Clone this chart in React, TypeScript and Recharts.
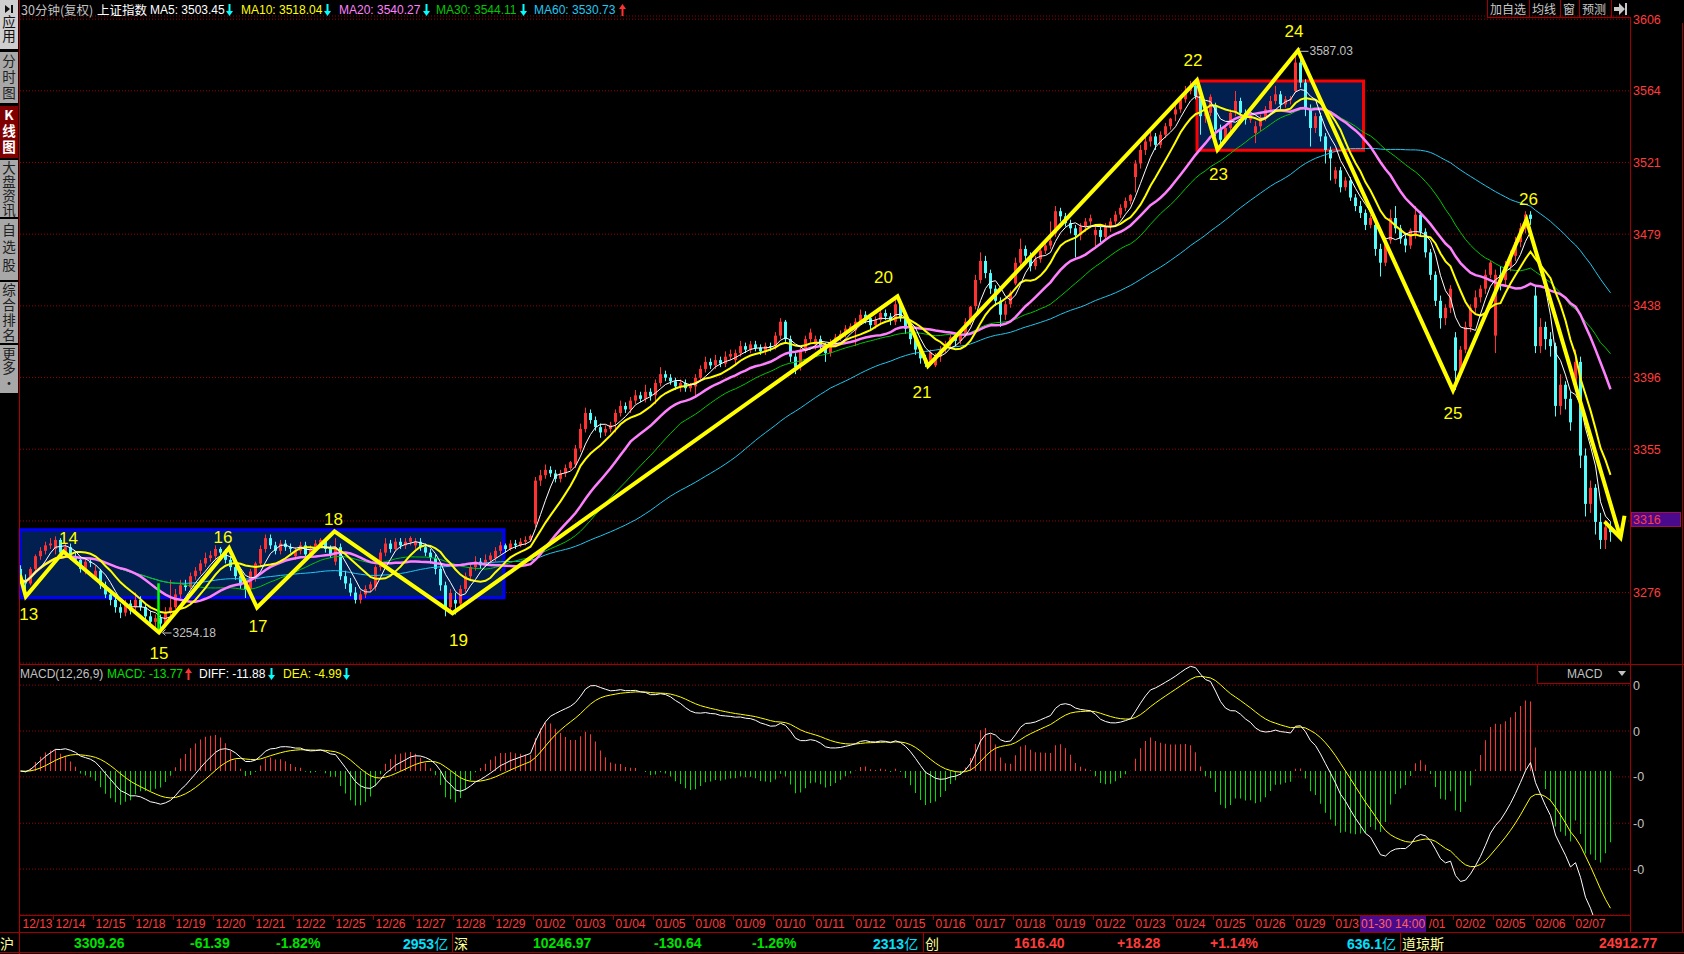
import React from "react";
import {
  ComposedChart,
  Bar,
  Line,
  XAxis,
  YAxis,
  CartesianGrid,
  ReferenceArea,
  Cell,
} from "recharts";

// 30-minute bars, 上证指数, 2017-12-13 .. 2018-02-07 (first day partly off-screen)
const days = [
  "12/13", "12/14", "12/15", "12/18", "12/19", "12/20", "12/21", "12/22", "12/25", "12/26",
  "12/27", "12/28", "12/29", "01/02", "01/03", "01/04", "01/05", "01/08", "01/09", "01/10",
  "01/11", "01/12", "01/15", "01/16", "01/17", "01/18", "01/19", "01/22", "01/23", "01/24",
  "01/25", "01/26", "01/29", "01/30", "01/31", "02/01", "02/02", "02/05", "02/06", "02/07",
];

const opens = [
  3289, 3283, 3281, 3289, 3296, 3299, 3302,
  3300, 3305, 3298, 3301, 3296, 3294, 3289, 3293,
  3284, 3288, 3280, 3275, 3272, 3268, 3265, 3270,
  3268, 3272, 3268, 3263, 3260, 3262, 3259, 3265,
  3268, 3275, 3280, 3279, 3285, 3288, 3292, 3295,
  3296, 3300, 3298, 3294, 3290, 3285, 3280, 3278,
  3285, 3292, 3300, 3306, 3302, 3299, 3303, 3301,
  3296, 3299, 3302, 3297, 3300, 3303, 3305, 3300,
  3293, 3301, 3285, 3281, 3276, 3272, 3275, 3278,
  3279, 3290, 3298, 3303, 3300, 3304, 3302, 3304,
  3302, 3304, 3301, 3298, 3295, 3289, 3280, 3268,
  3272, 3270, 3278, 3285, 3290, 3293, 3291, 3294,
  3295, 3299, 3302, 3300, 3303, 3302, 3304, 3305,
  3314, 3338, 3341, 3344, 3342, 3339, 3342, 3345,
  3347, 3356, 3367, 3376, 3372, 3368, 3365, 3367,
  3371, 3376, 3380, 3378, 3383, 3386, 3384, 3388,
  3386, 3393, 3398, 3396, 3394, 3391, 3393, 3390,
  3391, 3396, 3401, 3405, 3403, 3406, 3404, 3408,
  3406, 3410, 3414, 3412, 3415, 3413, 3411, 3414,
  3414, 3420, 3428, 3418, 3408, 3402, 3412, 3418,
  3415, 3418, 3414, 3410, 3416, 3419, 3421, 3424,
  3423, 3428, 3432, 3430, 3426, 3429, 3433, 3431,
  3428, 3438, 3430, 3424, 3418, 3412, 3407, 3404,
  3403, 3408, 3412, 3415, 3419, 3417, 3421, 3428,
  3437, 3452, 3463, 3456, 3447, 3440, 3432, 3438,
  3450, 3462, 3470, 3466, 3460, 3464, 3469, 3472,
  3479, 3492, 3489, 3485, 3482, 3478, 3483, 3486,
  3478, 3481, 3477, 3483, 3486, 3490, 3494, 3498,
  3512, 3520, 3528, 3533, 3536, 3531, 3537, 3542,
  3549, 3552, 3558, 3563, 3566, 3560, 3548, 3550,
  3554, 3540, 3534, 3541, 3550, 3557, 3550, 3546,
  3538, 3542, 3547, 3552, 3557, 3561, 3555, 3558,
  3563, 3580, 3568, 3552, 3541, 3548, 3536, 3528,
  3511, 3516, 3506, 3510, 3500, 3495, 3491, 3484,
  3484, 3470, 3462, 3475, 3488, 3482, 3476, 3472,
  3478, 3490, 3480, 3468, 3455, 3440, 3430, 3436,
  3419, 3400, 3412, 3425, 3436, 3442, 3447, 3455,
  3420, 3455, 3452, 3460, 3466, 3474, 3482, 3490,
  3443, 3414, 3425, 3418, 3414, 3380, 3392, 3384,
  3392, 3405, 3352, 3325, 3334, 3315, 3305, 3312,
];

const highs = [
  3291, 3286, 3290, 3297, 3301, 3304, 3306,
  3307, 3306, 3303, 3303, 3298, 3296, 3295, 3295,
  3291, 3289, 3282, 3277, 3274, 3270, 3272, 3272,
  3276, 3274, 3270, 3266, 3264, 3264, 3268, 3283,
  3278, 3283, 3283, 3287, 3290, 3294, 3298, 3299,
  3302, 3301, 3300, 3296, 3292, 3287, 3282, 3289,
  3293, 3302, 3308, 3308, 3304, 3305, 3305, 3303,
  3301, 3304, 3304, 3302, 3305, 3306, 3306, 3302,
  3306, 3303, 3288, 3284, 3279, 3277, 3280, 3282,
  3291, 3300, 3306, 3305, 3306, 3306, 3306, 3307,
  3306, 3306, 3303, 3300, 3297, 3291, 3282, 3278,
  3276, 3280, 3287, 3292, 3296, 3295, 3297, 3298,
  3301, 3304, 3303, 3305, 3305, 3306, 3307, 3308,
  3340, 3344, 3347, 3346, 3344, 3344, 3347, 3349,
  3358, 3370, 3379, 3378, 3374, 3370, 3369, 3371,
  3378, 3383, 3382, 3385, 3389, 3388, 3392, 3390,
  3395, 3402, 3400, 3398, 3396, 3395, 3395, 3393,
  3398, 3403, 3408, 3407, 3409, 3408, 3411, 3412,
  3412, 3417, 3416, 3417, 3417, 3415, 3416, 3416,
  3422, 3430, 3429, 3420, 3410, 3413, 3420, 3424,
  3420, 3420, 3416, 3418, 3421, 3423, 3426, 3427,
  3430, 3435, 3434, 3432, 3431, 3435, 3435, 3433,
  3442, 3440, 3432, 3426, 3420, 3414, 3409, 3412,
  3410, 3414, 3417, 3421, 3421, 3423, 3430, 3437,
  3455, 3468, 3466, 3458, 3449, 3442, 3440, 3446,
  3465, 3476, 3472, 3468, 3466, 3471, 3475, 3486,
  3495, 3494, 3491, 3487, 3484, 3485, 3488, 3490,
  3484, 3483, 3485, 3488, 3492, 3496, 3500, 3502,
  3522, 3531, 3536, 3540, 3538, 3539, 3544, 3547,
  3555, 3560, 3566, 3569, 3567, 3562, 3552, 3561,
  3556, 3543, 3543, 3552, 3563, 3559, 3552, 3550,
  3545, 3549, 3554, 3560, 3566, 3563, 3560, 3560,
  3587.03, 3582, 3570, 3555, 3550, 3550, 3538, 3530,
  3518, 3518, 3512, 3512, 3502, 3498, 3493, 3490,
  3486, 3473, 3477, 3493, 3495, 3484, 3479, 3482,
  3495, 3492, 3482, 3470, 3457, 3443, 3438, 3449,
  3422, 3414, 3428, 3438, 3446, 3449, 3458, 3463,
  3458, 3460, 3463, 3469, 3477, 3485, 3492, 3492,
  3448, 3430, 3428, 3422, 3416, 3398, 3394, 3388,
  3412, 3408, 3356, 3338, 3336, 3320, 3316, 3315,
];

const lows = [
  3281, 3278, 3280, 3287, 3294, 3297, 3300,
  3297, 3296, 3296, 3294, 3292, 3287, 3286, 3290,
  3283, 3278, 3273, 3269, 3265, 3262, 3263, 3264,
  3266, 3266, 3261, 3258, 3257, 3254.18, 3258, 3263,
  3267, 3273, 3277, 3278, 3283, 3286, 3290, 3293,
  3294, 3296, 3292, 3288, 3283, 3278, 3273, 3277,
  3282, 3290, 3298, 3300, 3297, 3297, 3299, 3298,
  3294, 3297, 3295, 3295, 3299, 3301, 3298, 3295,
  3291, 3283, 3278, 3274, 3270, 3270, 3273, 3276,
  3277, 3288, 3296, 3298, 3299, 3300, 3300, 3302,
  3300, 3299, 3296, 3292, 3286, 3277, 3263, 3266,
  3264, 3268, 3276, 3283, 3288, 3289, 3290, 3292,
  3293, 3297, 3298, 3299, 3300, 3301, 3302, 3304,
  3312, 3335, 3339, 3340, 3337, 3337, 3340, 3344,
  3345, 3354, 3365, 3370, 3366, 3362, 3363, 3365,
  3365, 3374, 3376, 3376, 3381, 3382, 3382, 3383,
  3381, 3391, 3394, 3392, 3389, 3388, 3388, 3388,
  3385, 3394, 3399, 3401, 3401, 3402, 3402, 3406,
  3403, 3408, 3410, 3410, 3411, 3409, 3409, 3411,
  3412, 3418, 3416, 3405, 3398, 3400, 3410, 3416,
  3412, 3412, 3405, 3408, 3414, 3417, 3419, 3422,
  3414, 3426, 3427, 3423, 3424, 3427, 3429, 3426,
  3426, 3428, 3421, 3415, 3409, 3404, 3402, 3403,
  3402, 3405, 3410, 3413, 3414, 3415, 3419, 3426,
  3435, 3450, 3453, 3444, 3437, 3425, 3429, 3436,
  3449, 3460, 3463, 3457, 3458, 3462, 3467, 3470,
  3477, 3486, 3483, 3479, 3465, 3475, 3480, 3484,
  3470, 3474, 3475, 3480, 3484, 3488, 3492, 3496,
  3503, 3517, 3525, 3530, 3528, 3529, 3535, 3540,
  3545, 3550, 3556, 3561, 3558, 3537, 3544, 3548,
  3536, 3530, 3532, 3539, 3548, 3547, 3543, 3544,
  3532, 3539, 3545, 3550, 3555, 3552, 3553, 3555,
  3562, 3565, 3548, 3530, 3538, 3533, 3520, 3510,
  3508, 3503, 3504, 3498, 3492, 3488, 3481, 3482,
  3466, 3454, 3460, 3473, 3479, 3473, 3468, 3470,
  3476, 3477, 3465, 3452, 3437, 3424, 3426, 3433,
  3389, 3397, 3410, 3422, 3433, 3439, 3444, 3453,
  3410, 3446, 3449, 3457, 3463, 3471, 3479, 3484,
  3410, 3410, 3412, 3408, 3374, 3375, 3378, 3366,
  3388, 3345, 3318, 3320, 3308, 3300, 3300, 3304,
];

const closes = [
  3283, 3281, 3289, 3296, 3299, 3302, 3303,
  3305, 3298, 3301, 3296, 3294, 3289, 3293, 3292.4,
  3288, 3280, 3275, 3272, 3268, 3265, 3270, 3266.1,
  3272, 3268, 3263, 3260, 3262, 3259, 3265, 3267.9,
  3275, 3280, 3279, 3285, 3288, 3292, 3295, 3296.5,
  3300, 3298, 3294, 3290, 3285, 3280, 3278, 3287.6,
  3292, 3300, 3306, 3302, 3299, 3303, 3301, 3300.1,
  3299, 3302, 3297, 3300, 3303, 3305, 3300, 3297.1,
  3301, 3285, 3281, 3276, 3272, 3275, 3278, 3280.5,
  3290, 3298, 3303, 3300, 3304, 3302, 3304, 3306.1,
  3304, 3301, 3298, 3295, 3289, 3280, 3268, 3275.8,
  3270, 3278, 3285, 3290, 3293, 3291, 3294, 3296.4,
  3299, 3302, 3300, 3303, 3302, 3304, 3305, 3307.2,
  3338, 3341, 3344, 3342, 3339, 3342, 3345, 3348.3,
  3356, 3367, 3376, 3372, 3368, 3365, 3367, 3369.1,
  3376, 3380, 3378, 3383, 3386, 3384, 3388, 3385.7,
  3393, 3398, 3396, 3394, 3391, 3393, 3390, 3391.8,
  3396, 3401, 3405, 3403, 3406, 3404, 3408, 3409.5,
  3410, 3414, 3412, 3415, 3413, 3411, 3414, 3413.9,
  3420, 3428, 3418, 3408, 3402, 3412, 3418, 3421.8,
  3418, 3414, 3410, 3416, 3419, 3421, 3424, 3425.3,
  3428, 3432, 3430, 3426, 3429, 3433, 3431, 3428.9,
  3438, 3430, 3424, 3418, 3412, 3407, 3404, 3410.5,
  3408, 3412, 3415, 3419, 3417, 3421, 3428, 3436.6,
  3452, 3463, 3456, 3447, 3440, 3432, 3438, 3444.7,
  3462, 3470, 3466, 3460, 3464, 3469, 3472, 3474.8,
  3492, 3489, 3485, 3482, 3478, 3483, 3486, 3487.9,
  3481, 3477, 3483, 3486, 3490, 3494, 3498, 3501.4,
  3520, 3528, 3533, 3536, 3531, 3537, 3542, 3546.5,
  3552, 3558, 3563, 3566, 3560, 3548, 3550, 3559.5,
  3540, 3534, 3541, 3550, 3557, 3550, 3546, 3548.3,
  3542, 3547, 3552, 3557, 3561, 3555, 3558, 3558.1,
  3580, 3568, 3552, 3541, 3548, 3536, 3528, 3523,
  3516, 3506, 3510, 3500, 3495, 3491, 3484, 3488,
  3470, 3462, 3475, 3488, 3482, 3476, 3472, 3480.8,
  3490, 3480, 3468, 3455, 3440, 3430, 3436, 3447,
  3400, 3412, 3425, 3436, 3442, 3447, 3455, 3462.1,
  3455, 3452, 3460, 3466, 3474, 3482, 3490, 3487.5,
  3414, 3425, 3418, 3414, 3380, 3392, 3384, 3370.7,
  3405, 3352, 3325, 3334, 3315, 3305, 3312, 3309.3,
];

// right price scale (ratio spaced grid) and the labels the terminal prints
const priceTicks = [3276, 3315.5, 3355.6, 3396.1, 3437.1, 3478.6, 3520.6, 3563.1, 3606.1];
const priceLabels = ["3276", "3316", "3355", "3396", "3438", "3479", "3521", "3564", "3606"];
const macdTicks = [19.1, 8.9, -1.3, -11.6, -21.8];
const macdLabels = ["0", "0", "-0", "-0", "-0"];

// hand drawn wave count
const zzIdx = [-0.1, 1.06, 8.6, 27.7, 41.7, 47.3, 62.8, 86.4, 175.4, 181.5, 235.3, 239.4, 255.5, 286.5, 301.2, 320.0];
const zzPrice = [3285.7, 3273.8, 3298.6, 3254.2, 3300.5, 3267.8, 3309.7, 3264.7, 3442.6, 3402.7, 3569.4, 3528.1, 3587.2, 3388.9, 3487.1, 3306.2];
const zzNames = ["", "13", "14", "15", "16", "17", "18", "19", "20", "21", "22", "23", "24", "25", "26", ""];
const zzLabelShift: [number, number][] = [
  [0, 0], [3, 18], [5, -13], [0, 21], [-6, -11], [1, 19], [-1, -12], [6, 27],
  [-14, -19], [-6, 27], [-4, -20], [1, 25], [-4, -19], [0, 23], [2, -20], [0, 0],
];
const arrowIdx = [316.8, 320.0, 320.8];
const arrowPrice = [3315.1, 3306.2, 3318.4];
const markIdx = [27.6, 27.6];
const markPrice = [3281.1, 3253.7];
const blueBox = { i1: -0.1, i2: 96.7, lo: 3273.1, hi: 3310.6 };
const redBox = { i1: 235.3, i2: 268.6, lo: 3527.8, hi: 3569.0 };
const cursorBox = { x1: 1360, x2: 1426 };

const UP = "#ff3232";
const DOWN = "#54fcfc";
const GRID = "#9a0000";
const LINE = "#a00000";
const AXIS_RED = "#ff3c3c";
const NUMF = "'Liberation Sans', Arial, sans-serif";
const CJK = "'Noto Sans CJK SC', 'Noto Sans', sans-serif";

function sma(n: number) {
  return closes.map((_, k) => {
    const s = Math.max(0, k - n + 1);
    let t = 0;
    for (let j = s; j <= k; j++) t += closes[j];
    return t / (k - s + 1);
  });
}
function ema(src: number[], n: number) {
  const a = 2 / (n + 1);
  const out: number[] = [];
  src.forEach((v, k) => out.push(k === 0 ? v : out[k - 1] + a * (v - out[k - 1])));
  return out;
}

const ma5 = sma(5), ma10 = sma(10), ma20 = sma(20), ma30 = sma(30), ma60 = sma(60);
const e12 = ema(closes, 12), e26 = ema(closes, 26);
const diff = e12.map((v, k) => v - e26[k]);
const dea = ema(diff, 9);

const rows = closes.map((c, i) => ({
  i,
  o: opens[i],
  h: highs[i],
  l: lows[i],
  c,
  range: [lows[i], highs[i]],
  ma5: ma5[i],
  ma10: ma10[i],
  ma20: ma20[i],
  ma30: ma30[i],
  ma60: ma60[i],
  diff: diff[i],
  dea: dea[i],
  hist: 2 * (diff[i] - dea[i]),
}));
const zzRows = zzIdx.map((i, k) => ({ i, zz: zzPrice[k] }));
const arrowRows = arrowIdx.map((i, k) => ({ i, v: arrowPrice[k] }));
const markRows = markIdx.map((i, k) => ({ i, v: markPrice[k] }));
const dayTicks = days.map((_, d) => (d === 0 ? -0.1 : 8 * d - 1.5));

const HI = Math.max(...highs);
const LO = Math.min(...lows);

function Candle(props: any) {
  const { x, width, payload } = props;
  let { y, height } = props;
  if (height < 0) {
    y += height;
    height = -height;
  }
  const { o, h, l, c } = payload;
  const lh = Math.log(h), ll = Math.log(l);
  const py = (p: number) => (lh === ll ? y : y + ((lh - Math.log(p)) / (lh - ll)) * height);
  const cx = Math.round(x + width / 2 - 0.5) + 0.5;
  const col = c >= o ? UP : DOWN;
  const bt = py(Math.max(o, c));
  const bb = py(Math.min(o, c));
  return (
    <g>
      <line x1={cx} x2={cx} y1={y} y2={y + height} stroke={col} strokeWidth={1} />
      <rect x={cx - 1.5} y={bt} width={3} height={Math.max(1, bb - bt)} fill={col} />
      {h === HI && (
        <g>
          <polyline points={`${cx + 5},${y - 3} ${cx + 2},${y} ${cx + 5},${y + 3}`} fill="none" stroke="#c0c0c0" />
          <line x1={cx + 2} x2={cx + 13} y1={y + 0.5} y2={y + 0.5} stroke="#c0c0c0" />
          <text x={cx + 14} y={y + 4.5} fill="#c0c0c0" fontSize={12} fontFamily={NUMF}>{h.toFixed(2)}</text>
        </g>
      )}
      {l === LO && (
        <g>
          <polyline points={`${cx + 5},${y + height - 3} ${cx + 2},${y + height} ${cx + 5},${y + height + 3}`} fill="none" stroke="#c0c0c0" />
          <line x1={cx + 2} x2={cx + 11} y1={y + height + 0.5} y2={y + height + 0.5} stroke="#c0c0c0" />
          <text x={cx + 12} y={y + height + 4.5} fill="#c0c0c0" fontSize={12} fontFamily={NUMF}>{l.toFixed(2)}</text>
        </g>
      )}
    </g>
  );
}

function ZzLabel(props: any) {
  const { x, y, index } = props;
  const name = zzNames[index];
  if (!name) return null;
  const [dx, dy] = zzLabelShift[index];
  return (
    <text x={x + dx} y={y + dy} fill="#ffff00" fontSize={17} fontFamily={NUMF} textAnchor="middle" dominantBaseline="central">
      {name}
    </text>
  );
}

function PriceTick(props: any) {
  const { y, index } = props;
  return (
    <text x={1633} y={y + 4.5} fill={AXIS_RED} fontSize={12.5} fontFamily={NUMF}>
      {priceLabels[index]}
    </text>
  );
}
function MacdTick(props: any) {
  const { y, index } = props;
  return (
    <text x={1633} y={y + 4.5} fill="#c0c0c0" fontSize={12.5} fontFamily={NUMF}>
      {macdLabels[index]}
    </text>
  );
}

// the part of a date label that is not hidden under the cursor time box
function visiblePart(label: string, x0: number) {
  let pos = x0;
  let start = -1;
  let shown = "";
  for (const ch of label) {
    const w = ch === "/" ? 3.33 : 6.67;
    const hidden = pos + w > cursorBox.x1 && pos < cursorBox.x2;
    if (!hidden) {
      if (start < 0) start = pos;
      shown += ch;
    } else if (shown) {
      break;
    }
    pos += w;
  }
  return { shown, start };
}

function DateTick(props: any) {
  const { x, index } = props;
  const X = Math.round(x) + 0.5;
  const { shown, start } = visiblePart(days[index], X + 2);
  return (
    <g>
      {index > 0 && <line x1={X} x2={X} y1={251} y2={256} stroke={LINE} />}
      {shown && (
        <text x={start} y={263.5} fill={AXIS_RED} fontSize={12} fontFamily={NUMF}>
          {shown}
        </text>
      )}
    </g>
  );
}

function Arrow({ x, y, up, color }: { x: number; y: number; up?: boolean; color: string }) {
  return (
    <svg style={{ position: "absolute", left: x, top: y }} width={7} height={12}>
      {up ? (
        <g fill={color}>
          <polygon points="0,5 7,5 3.5,0" />
          <rect x={2.5} y={5} width={2} height={7} />
        </g>
      ) : (
        <g fill={color}>
          <rect x={2.5} y={0} width={2} height={7} />
          <polygon points="0,7 7,7 3.5,12" />
        </g>
      )}
    </svg>
  );
}

function Txt({ x, y, c, s = 12, f = NUMF, w = 400, children }: any) {
  return (
    <div
      style={{
        position: "absolute",
        left: x,
        top: y - s * 0.6,
        color: c,
        fontSize: s,
        fontWeight: w,
        lineHeight: `${Math.round(s * 1.2)}px`,
        fontFamily: f,
        whiteSpace: "nowrap",
      }}
    >
      {children}
    </div>
  );
}

const tabs = [
  { text: "应用", top: 0, h: 49, bg: "#cfcfcf", fg: "#101010", gap: 1, icon: true },
  { text: "分时图", top: 52, h: 51, bg: "#a8a8a8", fg: "#202020", gap: 2.5 },
  { text: "K线图", top: 106, h: 52, bg: "#800000", fg: "#ffffff", gap: 2.5 },
  { text: "大盘资讯", top: 160, h: 57, bg: "#a8a8a8", fg: "#202020", gap: 0.5 },
  { text: "自选股", top: 219, h: 61, bg: "#a8a8a8", fg: "#202020", gap: 4 },
  { text: "综合排名", top: 282, h: 61, bg: "#a8a8a8", fg: "#202020", gap: 1.5 },
  { text: "更多·", top: 345, h: 48, bg: "#a8a8a8", fg: "#202020", gap: 1 },
];

function hl(x: number, y: number, w: number, c = LINE) {
  return <div style={{ position: "absolute", left: x, top: y, width: w, height: 1, background: c }} />;
}
function vl(x: number, y: number, h: number, c = LINE) {
  return <div style={{ position: "absolute", left: x, top: y, width: 1, height: h, background: c }} />;
}

export default function App() {
  return (
    <div
      style={{
        position: "absolute",
        left: 0,
        top: 0,
        width: 1684,
        height: 954,
        background: "#000",
        overflow: "hidden",
        fontFamily: NUMF,
      }}
    >
      {/* price panel */}
      <div style={{ position: "absolute", left: 0, top: 0 }}>
        <ComposedChart width={1684} height={664} data={rows} margin={{ top: 16, right: 0, bottom: 1, left: 20 }}>
          <CartesianGrid vertical={false} stroke={GRID} strokeDasharray="1 2" />
          <XAxis type="number" dataKey="i" domain={[-0.1, 321.9]} allowDataOverflow hide />
          <YAxis
            orientation="right"
            scale="log"
            domain={[3237.6, 3608]}
            allowDataOverflow
            ticks={priceTicks}
            interval={0}
            width={54}
            axisLine={false}
            tickLine={false}
            tick={(p: any) => <PriceTick {...p} />}
          />
          <ReferenceArea x1={blueBox.i1} x2={blueBox.i2} y1={blueBox.lo} y2={blueBox.hi} fill="#01204f" fillOpacity={1} stroke="#0000ff" strokeWidth={3} ifOverflow="visible" />
          <ReferenceArea x1={redBox.i1} x2={redBox.i2} y1={redBox.lo} y2={redBox.hi} fill="#01204f" fillOpacity={1} stroke="#ff0000" strokeWidth={3} ifOverflow="visible" />
          <Bar dataKey="range" barSize={3} isAnimationActive={false} shape={(p: any) => <Candle {...p} />} />
          <Line dataKey="ma60" stroke="#20c8f0" strokeWidth={1} dot={false} isAnimationActive={false} />
          <Line dataKey="ma30" stroke="#00c800" strokeWidth={1} dot={false} isAnimationActive={false} />
          <Line dataKey="ma20" stroke="#ff80ff" strokeWidth={2.5} dot={false} isAnimationActive={false} />
          <Line dataKey="ma10" stroke="#ffff00" strokeWidth={2} dot={false} isAnimationActive={false} />
          <Line dataKey="ma5" stroke="#ffffff" strokeWidth={1} dot={false} isAnimationActive={false} />
          <Line data={markRows} dataKey="v" stroke="#00ff00" strokeWidth={2.5} dot={false} isAnimationActive={false} />
          <Line
            data={zzRows}
            dataKey="zz"
            stroke="#ffff00"
            strokeWidth={4}
            dot={false}
            isAnimationActive={false}
            label={(p: any) => <ZzLabel {...p} />}
          />
          <Line data={arrowRows} dataKey="v" stroke="#ffff00" strokeWidth={4} dot={false} isAnimationActive={false} />
        </ComposedChart>
      </div>

      {/* MACD panel + date axis */}
      <div style={{ position: "absolute", left: 0, top: 664 }}>
        <ComposedChart width={1684} height={268} data={rows} margin={{ top: 0, right: 0, bottom: 0, left: 20 }}>
          <CartesianGrid vertical={false} stroke={GRID} strokeDasharray="1 2" />
          <XAxis
            type="number"
            dataKey="i"
            domain={[-0.1, 321.9]}
            allowDataOverflow
            ticks={dayTicks}
            interval={0}
            height={17}
            axisLine={false}
            tickLine={false}
            tick={(p: any) => <DateTick {...p} />}
          />
          <YAxis
            orientation="right"
            domain={[-32, 23.8]}
            allowDataOverflow
            ticks={macdTicks}
            interval={0}
            width={54}
            axisLine={false}
            tickLine={false}
            tick={(p: any) => <MacdTick {...p} />}
          />
          <Bar dataKey="hist" barSize={1} isAnimationActive={false}>
            {rows.map((r) => (
              <Cell key={r.i} fill={r.hist >= 0 ? UP : "#00e000"} />
            ))}
          </Bar>
          <Line dataKey="dea" stroke="#ffff00" strokeWidth={1} dot={false} isAnimationActive={false} />
          <Line dataKey="diff" stroke="#ffffff" strokeWidth={1} dot={false} isAnimationActive={false} />
        </ComposedChart>
      </div>

      {/* frame lines */}
      {vl(19, 0, 954, "#b00000")}
      {vl(1630, 17, 915)}
      {vl(1682, 23, 909)}
      {hl(20, 664, 1664)}
      {hl(20, 915, 1610)}
      {hl(0, 932, 1684)}
      {hl(0, 952, 1684)}

      {/* left tab bar */}
      {tabs.map((t, k) => (
        <div
          key={k}
          style={{
            position: "absolute",
            left: 0,
            top: t.top,
            width: 18,
            height: t.h,
            background: t.bg,
            display: "flex",
            flexDirection: "column",
            alignItems: "center",
            justifyContent: "center",
          }}
        >
          {t.icon && (
            <svg width={9} height={8} style={{ marginBottom: 2 }}>
              <polygon points="0,0 5,4 0,8" fill={t.fg} />
              <rect x={6} y={0} width={2} height={8} fill={t.fg} />
            </svg>
          )}
          <div
            style={{
              writingMode: "vertical-rl",
              textOrientation: "upright",
              color: t.fg,
              fontFamily: CJK,
              fontSize: 13.5,
              lineHeight: "18px",
              letterSpacing: t.gap,
              fontWeight: k === 2 ? 700 : 400,
            }}
          >
            {t.text}
          </div>
        </div>
      ))}

      {/* title row */}
      <Txt x={21} y={9} c="#c0c0c0" f={CJK} s={12.5}>30分钟(复权)</Txt>
      <Txt x={97} y={9} c="#ffffff" f={CJK} s={12.5}>上证指数</Txt>
      <Txt x={150} y={10} c="#ffffff">MA5: 3503.45</Txt>
      <Arrow x={226} y={4} color="#00ffff" />
      <Txt x={241} y={10} c="#ffff00">MA10: 3518.04</Txt>
      <Arrow x={324} y={4} color="#00ffff" />
      <Txt x={339} y={10} c="#ff80ff">MA20: 3540.27</Txt>
      <Arrow x={423} y={4} color="#00ffff" />
      <Txt x={436} y={10} c="#00c800">MA30: 3544.11</Txt>
      <Arrow x={520} y={4} color="#00ffff" />
      <Txt x={534} y={10} c="#20c8f0">MA60: 3530.73</Txt>
      <Arrow x={619} y={4} up color="#ff3232" />

      {/* top right buttons */}
      {hl(1487, 17, 143)}
      {[1487, 1529, 1560, 1579, 1611].map((x) => (
        <React.Fragment key={x}>{vl(x, 0, 17)}</React.Fragment>
      ))}
      <Txt x={1490} y={9} c="#c8c8c8" f={CJK}>加自选</Txt>
      <Txt x={1532} y={9} c="#c8c8c8" f={CJK}>均线</Txt>
      <Txt x={1563} y={9} c="#c8c8c8" f={CJK}>窗</Txt>
      <Txt x={1582} y={9} c="#c8c8c8" f={CJK}>预测</Txt>
      <svg style={{ position: "absolute", left: 1614, top: 3 }} width={14} height={12}>
        <polygon points="0,4 5,4 5,0 11,6 5,12 5,8 0,8" fill="#c8c8c8" />
        <rect x={11} y={0} width={2} height={12} fill="#c8c8c8" />
      </svg>

      {/* current price tag on the axis */}
      <div
        style={{
          position: "absolute",
          left: 1631,
          top: 512,
          width: 50,
          height: 15,
          background: "#4a0a8c",
          border: "1px solid #a01050",
          boxSizing: "border-box",
        }}
      />
      <Txt x={1633} y={520} c={AXIS_RED} s={12.5}>3316</Txt>

      {/* MACD title row */}
      <Txt x={20} y={674} c="#c0c0c0">MACD(12,26,9)</Txt>
      <Txt x={107} y={674} c="#00e000">MACD: -13.77</Txt>
      <Arrow x={185} y={668} up color="#ff3232" />
      <Txt x={199} y={674} c="#ffffff">DIFF: -11.88</Txt>
      <Arrow x={268} y={668} color="#00ffff" />
      <Txt x={283} y={674} c="#ffff00">DEA: -4.99</Txt>
      <Arrow x={343} y={668} color="#00ffff" />
      <div
        style={{
          position: "absolute",
          left: 1537,
          top: 664,
          width: 94,
          height: 20,
          border: `1px solid ${LINE}`,
          boxSizing: "border-box",
          background: "#000",
        }}
      />
      <Txt x={1567} y={674} c="#c0c0c0">MACD</Txt>
      <svg style={{ position: "absolute", left: 1618, top: 671 }} width={8} height={6}>
        <polygon points="0,0 8,0 4,5" fill="#c0c0c0" />
      </svg>

      {/* cursor time on the date axis */}
      <div
        style={{
          position: "absolute",
          left: cursorBox.x1,
          top: 916,
          width: cursorBox.x2 - cursorBox.x1,
          height: 16,
          background: "#4a0a8c",
        }}
      />
      <Txt x={1361} y={924} c="#ff6060">01-30 14:00</Txt>

      {/* market status bar */}
      <Txt x={0} y={943} c="#ffff99" s={14} f={CJK}>沪</Txt>
      <Txt x={74} y={943} c="#00e000" s={14} w={700}>3309.26</Txt>
      <Txt x={190} y={943} c="#00e000" s={14} w={700}>-61.39</Txt>
      <Txt x={276} y={943} c="#00e000" s={14} w={700}>-1.82%</Txt>
      <Txt x={403} y={943} c="#00e0ff" s={14} w={700}>2953<span style={{ fontFamily: CJK, fontWeight: 400 }}>亿</span></Txt>
      {vl(452, 933, 19)}
      <Txt x={454} y={943} c="#ffff99" s={14} f={CJK}>深</Txt>
      <Txt x={533} y={943} c="#00e000" s={14} w={700}>10246.97</Txt>
      <Txt x={654} y={943} c="#00e000" s={14} w={700}>-130.64</Txt>
      <Txt x={752} y={943} c="#00e000" s={14} w={700}>-1.26%</Txt>
      <Txt x={873} y={943} c="#00e0ff" s={14} w={700}>2313<span style={{ fontFamily: CJK, fontWeight: 400 }}>亿</span></Txt>
      {vl(923, 933, 19)}
      <Txt x={925} y={943} c="#ffff99" s={14} f={CJK}>创</Txt>
      <Txt x={1014} y={943} c={AXIS_RED} s={14} w={700}>1616.40</Txt>
      <Txt x={1117} y={943} c={AXIS_RED} s={14} w={700}>+18.28</Txt>
      <Txt x={1210} y={943} c={AXIS_RED} s={14} w={700}>+1.14%</Txt>
      <Txt x={1347} y={943} c="#00e0ff" s={14} w={700}>636.1<span style={{ fontFamily: CJK, fontWeight: 400 }}>亿</span></Txt>
      {vl(1400, 933, 19)}
      <Txt x={1402} y={943} c="#ffff99" s={14} f={CJK}>道琼斯</Txt>
      <Txt x={1599} y={943} c={AXIS_RED} s={14} w={700}>24912.77</Txt>
    </div>
  );
}
